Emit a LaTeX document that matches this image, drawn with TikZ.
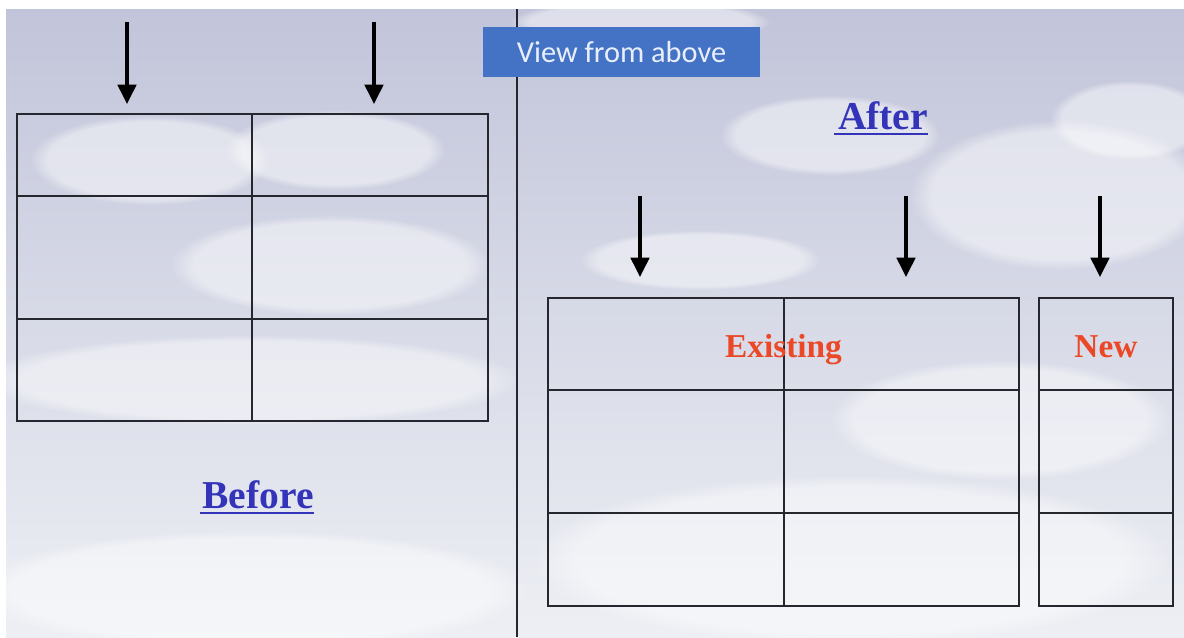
\documentclass[tikz,border=0pt]{standalone}
\usepackage{fontspec}
\setmainfont{Liberation Serif}
\newfontfamily\calib{Carlito}
\usetikzlibrary{arrows.meta,positioning,fadings}
\definecolor{skytop}{RGB}{194,197,218}
\definecolor{skymid}{RGB}{213,215,230}
\definecolor{skylow}{RGB}{237,239,244}
\definecolor{headblue}{RGB}{52,52,186}
\definecolor{tagred}{RGB}{234,72,38}
\definecolor{boxblue}{RGB}{68,114,196}
\definecolor{gridgray}{RGB}{38,38,46}
\begin{document}
\begin{tikzpicture}[x=0.02cm,y=-0.02cm,
  heading/.style={inner sep=0pt,anchor=base,font=\fontsize{22.5}{26}\selectfont\bfseries,text=headblue},
  tag/.style={inner sep=0pt,anchor=base,font=\fontsize{19}{22}\selectfont\bfseries,text=tagred},
  gridbox/.style={draw=gridgray,line width=0.9pt},
  down/.style={-{Triangle[length=11pt,width=10.5pt]},line width=1.9pt,black},
  puff/.style={fill=white,opacity=0.45,path fading=circle with fuzzy edge 15 percent}]
\useasboundingbox (0,0) rectangle (1184,637);
% sky
\fill[white] (0,0) rectangle (1184,637);
\begin{scope}
\clip (6,9) rectangle (1184,637);
\shade[top color=skytop,middle color=skymid,bottom color=skylow] (6,9) rectangle (1184,637);
\foreach \cx/\cy/\rx/\ry in {150/160/120/45,335/150/110/40,330/265/160/50,250/380/270/45,
  250/590/280/60,830/135/110/40,1060/195/150/75,1130/120/80/40,700/260/120/30,
  850/560/320/85,640/22/130/22,1000/420/170/60}
  \fill[puff] (\cx,\cy) ellipse [x radius=\rx,y radius=\ry];
\end{scope}
\draw[gridbox] (517,9) -- (517,637);
\node[fill=boxblue,text={rgb,255:red,232;green,239;blue,250},minimum width=5.54cm,minimum height=1cm,
  font=\calib\fontsize{17.3}{20}\selectfont] (view) at (621.5,52) {View from above};
% before
\draw[gridbox] (17,114) rectangle (488,421);
\draw[gridbox] (252,114) -- (252,421) (17,196) -- (488,196) (17,319) -- (488,319);
\coordinate (b1s) at (127,22); \coordinate (b1e) at (127,104);
\coordinate (b2s) at (374,22); \coordinate (b2e) at (374,104);
\draw[down] (b1s) -- (b1e); \draw[down] (b2s) -- (b2e);
\node[heading] (before) at (258,508) {Before};
\draw[headblue,line width=1.3pt] ([xshift=-1pt,yshift=-2.7pt]before.base west) -- ([yshift=-2.7pt]before.base east);
% after
\node[heading] (after) at (883,129) {After};
\draw[headblue,line width=1.3pt] ([xshift=-2pt,yshift=-2.7pt]after.base west) -- ([yshift=-2.7pt]after.base east);
\draw[gridbox] (548,298) rectangle (1019,606);
\draw[gridbox] (784,298) -- (784,606) (548,390) -- (1019,390) (548,513) -- (1019,513);
\draw[gridbox] (1039,298) rectangle (1173,606);
\draw[gridbox] (1039,390) -- (1173,390) (1039,513) -- (1173,513);
\node[tag] (exist) at (783.5,357) {Existing};
\node[tag] (new) at (1106,357) {New};
\coordinate (a1s) at (640,196); \coordinate (a1e) at (640,277);
\coordinate (a2s) at (906,196); \coordinate (a2e) at (906,277);
\coordinate (a3s) at (1100,196); \coordinate (a3e) at (1100,277);
\draw[down] (a1s) -- (a1e); \draw[down] (a2s) -- (a2e); \draw[down] (a3s) -- (a3e);
\end{tikzpicture}
\end{document}
